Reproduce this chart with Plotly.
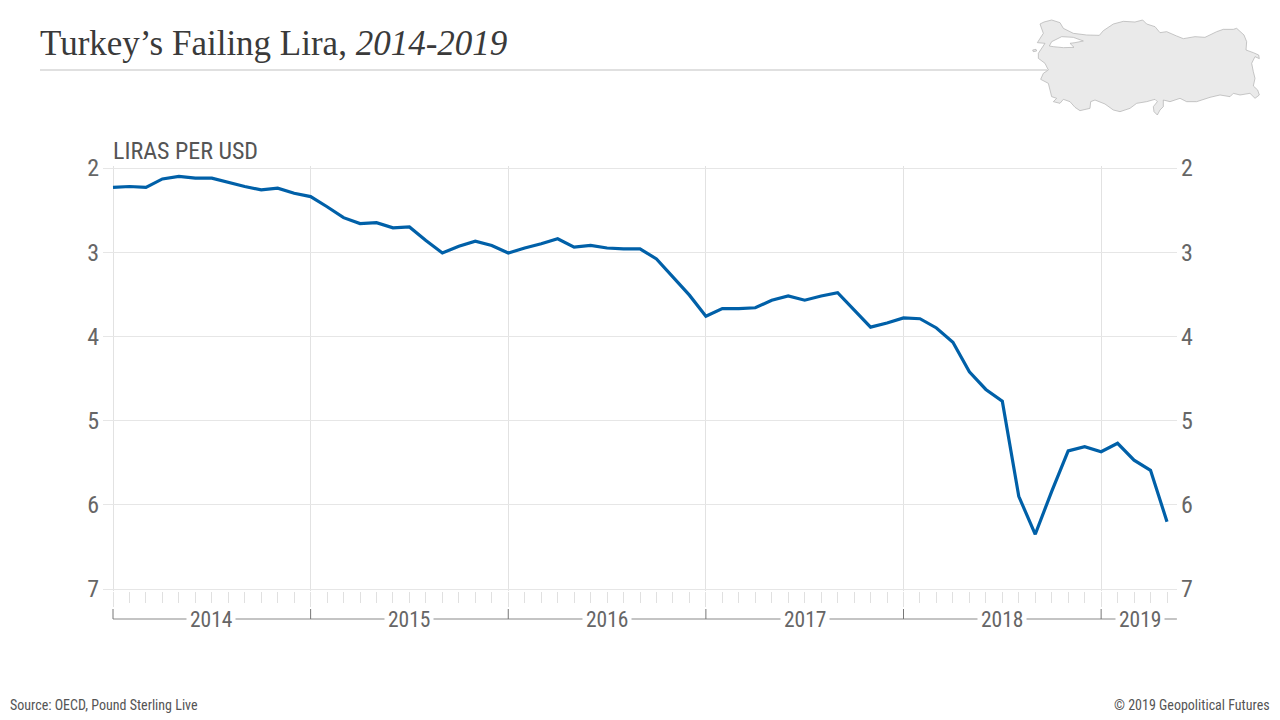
import plotly.graph_objects as go

months = list(range(65))
liras_per_usd = [2.23,2.22,2.23,2.13,2.10,2.12,2.12,2.17,2.22,2.26,2.24,2.30,
                 2.34,2.46,2.59,2.66,2.65,2.71,2.70,2.86,3.01,2.93,2.87,2.92,
                 3.01,2.95,2.90,2.84,2.94,2.92,2.95,2.96,2.96,3.08,3.29,3.51,
                 3.76,3.67,3.67,3.66,3.57,3.52,3.57,3.52,3.48,3.69,3.89,3.84,
                 3.78,3.79,3.90,4.07,4.42,4.63,4.77,5.90,6.35,5.84,5.36,5.31,
                 5.37,5.27,5.47,5.59,6.20]
year_starts = [0,12,24,36,48,60]
year_labels = ["2014","2015","2016","2017","2018","2019"]
year_centers = [5.95,18,30,42,54,62.35]
y_ticks = [2,3,4,5,6,7]

land = [(60,72),(72,66),(95,60),(120,68),(130,85),(160,100),(200,105),(238,106),(250,92),(280,72),(310,64),(345,66),
        (368,60),(380,72),(405,80),(420,98),(440,95),(470,108),(490,116),(525,110),(555,112),(590,95),(610,88),
        (640,88),(650,85),(672,105),(680,125),(678,150),(700,158),(716,165),(718,176),(705,170),(695,190),
        (700,215),(705,235),(700,258),(713,270),(718,285),(705,295),(690,280),(660,285),(640,280),(630,290),
        (600,285),(570,292),(530,305),(500,305),(480,295),(450,305),(430,300),(430,320),(420,330),(412,345),
        (402,335),(400,320),(412,305),(405,298),(380,305),(350,310),(330,325),(300,335),(280,330),(255,312),
        (225,300),(212,305),(210,325),(180,332),(165,322),(150,305),(130,298),(120,310),(100,305),(110,295),
        (95,290),(90,270),(85,250),(62,238),(70,220),(85,210),(75,190),(55,175),(55,160),(75,130),(52,128),(70,100)]
marmara = [(95,125),(125,110),(160,112),(190,123),(165,128),(150,130),(162,142),(130,143),(100,140),(88,138)]
island = [(38,150),(48,148),(50,153),(40,155)]

PAD_PX = 2
UNIT_PX = 84.2
L, R, T, B = 103, 1177, 168 - PAD_PX, 589 + PAD_PX
def px(x): return (x - L) / (R - L)
def py(y): return (B - y) / (B - T)
def crop_path(points):
    return "M " + " L ".join(f"{px(1020+a/3):.5f},{py(b/3):.5f}" for a, b in points) + " Z"

NARROW = "Roboto Condensed, Liberation Sans Narrow, Roboto"
fig = go.Figure()
fig.add_trace(go.Scatter(x=months, y=liras_per_usd, mode="lines", line=dict(color="#0060a8", width=3.2), hoverinfo="skip"))
fig.add_trace(go.Scatter(x=months, y=liras_per_usd, yaxis="y2", mode="lines", line=dict(width=0), hoverinfo="skip"))

shapes = [
    dict(type="line", xref="paper", yref="paper", x0=px(40), x1=px(1047), y0=py(70), y1=py(70), line=dict(color="#e0e0e0", width=2)),
    dict(type="path", xref="paper", yref="paper", path=crop_path(land), fillcolor="#eaeaea", line=dict(color="#b0b0b0", width=0.7)),
    dict(type="path", xref="paper", yref="paper", path=crop_path(marmara), fillcolor="#ffffff", line=dict(color="#b0b0b0", width=0.7)),
    dict(type="path", xref="paper", yref="paper", path=crop_path(island), fillcolor="#eaeaea", line=dict(color="#b0b0b0", width=0.7)),
    dict(type="line", xref="x", yref="paper", x0=0, x1=64.6, y0=py(619), y1=py(619), line=dict(color="#8a8a8a", width=1.2)),
]
for s in year_starts:
    shapes.append(dict(type="line", xref="x", yref="paper", x0=s, x1=s, y0=py(609), y1=py(619), line=dict(color="#777777", width=1)))

annotations = [
    dict(xref="paper", yref="paper", x=px(38), y=py(44), xanchor="left", yanchor="middle", showarrow=False,
         text="Turkey’s Failing Lira, <i>2014-2019</i>", font=dict(family="Liberation Serif", size=35, color="#3a3a3a")),
    dict(xref="paper", yref="paper", x=px(111), y=py(151), xanchor="left", yanchor="middle", showarrow=False,
         text="LIRAS PER USD", font=dict(family=NARROW, size=24, color="#555555")),
    dict(xref="paper", yref="paper", x=px(8), y=py(705), xanchor="left", yanchor="middle", showarrow=False,
         text="Source: OECD, Pound Sterling Live", font=dict(family=NARROW, size=14, color="#555555")),
    dict(xref="paper", yref="paper", x=px(1272), y=py(705), xanchor="right", yanchor="middle", showarrow=False,
         text="© 2019 Geopolitical Futures", font=dict(family=NARROW, size=14, color="#555555")),
]
for c, lab in zip(year_centers, year_labels):
    annotations.append(dict(xref="x", yref="paper", x=c, y=py(619), xanchor="center", yanchor="middle", showarrow=False,
                            text=lab, bgcolor="#ffffff", font=dict(family=NARROW, size=21.5, color="#666666"), borderpad=3))

y_pad = PAD_PX / UNIT_PX
yaxis_common = dict(range=[7 + y_pad, 2 - y_pad], tickmode="array", tickvals=y_ticks, ticktext=[str(v) for v in y_ticks], ticks="",
                    tickfont=dict(family=NARROW, size=24, color="#666666"), ticklabelstandoff=3, zeroline=False, showline=False)
fig.update_layout(
    width=1280, height=720, margin=dict(l=L, r=1280-R, t=T, b=720-B), paper_bgcolor="#ffffff", plot_bgcolor="#ffffff",
    showlegend=False, shapes=shapes, annotations=annotations,
    xaxis=dict(range=[-10/16.47, 64+10/16.47], tickmode="array", tickvals=year_starts, ticktext=[""]*6, ticks="outside",
               ticklen=15, tickcolor="#e2e2e2", tickwidth=1, showgrid=True, gridcolor="#e2e2e2", gridwidth=1, zeroline=False, showline=False,
               minor=dict(tick0=0, dtick=1, ticks="outside", ticklen=11, tickcolor="#e0e0e0", tickwidth=1, showgrid=False)),
    yaxis=dict(**yaxis_common, showgrid=True, gridcolor="#e6e6e6", gridwidth=1),
    yaxis2=dict(**yaxis_common, overlaying="y", side="right", showgrid=False),
)
fig.write_html("out.html", config=dict(displayModeBar=False), post_script="document.body.style.margin='0';")
